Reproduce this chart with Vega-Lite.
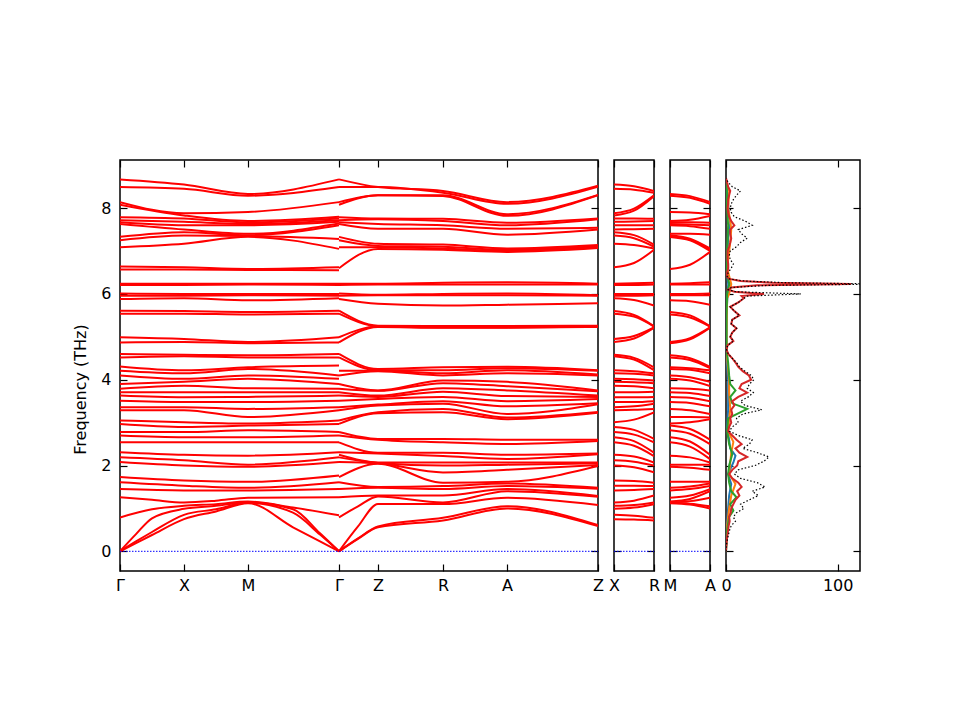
{
  "$schema": "https://vega.github.io/schema/vega-lite/v6.json",
  "description": "Phonon band structure with partial density of states.",
  "background": "white",
  "padding": {"left": 72, "top": 158, "right": 0, "bottom": 0},
  "bounds": "flush",
  "spacing": 16,
  "config": {
    "view": {"stroke": "black", "strokeWidth": 1.5},
    "axis": {
      "domain": false, "grid": false, "tickColor": "black", "tickWidth": 1.2, "tickSize": -7,
      "labelFont": "DejaVu Sans", "labelFontSize": 16, "labelColor": "black",
      "labelFlush": false, "labelOverlap": false,
      "titleFont": "DejaVu Sans", "titleFontSize": 16, "titleFontWeight": "normal", "titleColor": "black"
    },
    "axisX": {"labelPadding": 13},
    "axisY": {"labelPadding": 16}
  },
  "datasets": {
    "bands": [
      {"b":1,"q":0,"f":8.67},{"b":1,"q":64,"f":8.55},{"b":1,"q":128,"f":8.33},{"b":1,"q":219,"f":8.67},
      {"b":2,"q":0,"f":8.49},{"b":2,"q":64,"f":8.45},{"b":2,"q":128,"f":8.29},{"b":2,"q":219,"f":8.49},
      {"b":3,"q":0,"f":8.14},{"b":3,"q":64,"f":7.88},{"b":3,"q":128,"f":7.91},{"b":3,"q":219,"f":8.14},
      {"b":4,"q":0,"f":8.08},{"b":4,"q":64,"f":7.83},{"b":4,"q":128,"f":7.70},{"b":4,"q":219,"f":7.80},
      {"b":5,"q":0,"f":7.79},{"b":5,"q":64,"f":7.76},{"b":5,"q":128,"f":7.67},{"b":5,"q":219,"f":7.76},
      {"b":6,"q":0,"f":7.72},{"b":6,"q":64,"f":7.68},{"b":6,"q":128,"f":7.63},{"b":6,"q":219,"f":7.72},
      {"b":7,"q":0,"f":7.67},{"b":7,"q":64,"f":7.60},{"b":7,"q":128,"f":7.60},{"b":7,"q":219,"f":7.68},
      {"b":8,"q":0,"f":7.63},{"b":8,"q":64,"f":7.50},{"b":8,"q":128,"f":7.40},{"b":8,"q":219,"f":7.64},
      {"b":9,"q":0,"f":7.33},{"b":9,"q":64,"f":7.44},{"b":9,"q":128,"f":7.37},{"b":9,"q":219,"f":7.60},
      {"b":10,"q":0,"f":7.25},{"b":10,"q":64,"f":7.36},{"b":10,"q":128,"f":7.35},{"b":10,"q":219,"f":7.28},
      {"b":11,"q":0,"f":7.09},{"b":11,"q":64,"f":7.17},{"b":11,"q":128,"f":7.33},{"b":11,"q":219,"f":7.05},
      {"b":12,"q":0,"f":6.64},{"b":12,"q":64,"f":6.62},{"b":12,"q":128,"f":6.58},{"b":12,"q":219,"f":6.62},
      {"b":13,"q":0,"f":6.57},{"b":13,"q":64,"f":6.57},{"b":13,"q":128,"f":6.56},{"b":13,"q":219,"f":6.55},
      {"b":14,"q":0,"f":6.24},{"b":14,"q":64,"f":6.24},{"b":14,"q":128,"f":6.24},{"b":14,"q":219,"f":6.24},
      {"b":15,"q":0,"f":6.21},{"b":15,"q":64,"f":6.21},{"b":15,"q":128,"f":6.22},{"b":15,"q":219,"f":6.21},
      {"b":16,"q":0,"f":6.01},{"b":16,"q":64,"f":6.00},{"b":16,"q":128,"f":6.00},{"b":16,"q":219,"f":6.00},
      {"b":17,"q":0,"f":5.96},{"b":17,"q":64,"f":5.96},{"b":17,"q":128,"f":5.97},{"b":17,"q":219,"f":5.96},
      {"b":18,"q":0,"f":5.88},{"b":18,"q":64,"f":5.90},{"b":18,"q":128,"f":5.85},{"b":18,"q":219,"f":5.90},
      {"b":19,"q":0,"f":5.61},{"b":19,"q":64,"f":5.60},{"b":19,"q":128,"f":5.58},{"b":19,"q":219,"f":5.61},
      {"b":20,"q":0,"f":5.54},{"b":20,"q":64,"f":5.54},{"b":20,"q":128,"f":5.52},{"b":20,"q":219,"f":5.54},
      {"b":21,"q":0,"f":4.99},{"b":21,"q":64,"f":4.95},{"b":21,"q":128,"f":4.88},{"b":21,"q":219,"f":4.99},
      {"b":22,"q":0,"f":4.87},{"b":22,"q":64,"f":4.88},{"b":22,"q":128,"f":4.85},{"b":22,"q":219,"f":4.87},
      {"b":23,"q":0,"f":4.60},{"b":23,"q":64,"f":4.58},{"b":23,"q":128,"f":4.57},{"b":23,"q":219,"f":4.60},
      {"b":24,"q":0,"f":4.52},{"b":24,"q":64,"f":4.55},{"b":24,"q":128,"f":4.52},{"b":24,"q":219,"f":4.52},
      {"b":25,"q":0,"f":4.31},{"b":25,"q":64,"f":4.22},{"b":25,"q":128,"f":4.29},{"b":25,"q":219,"f":4.33},
      {"b":26,"q":0,"f":4.21},{"b":26,"q":64,"f":4.15},{"b":26,"q":128,"f":4.25},{"b":26,"q":219,"f":4.10},
      {"b":27,"q":0,"f":4.10},{"b":27,"q":64,"f":4.02},{"b":27,"q":128,"f":4.10},{"b":27,"q":219,"f":4.02},
      {"b":28,"q":0,"f":3.90},{"b":28,"q":64,"f":3.95},{"b":28,"q":128,"f":4.02},{"b":28,"q":219,"f":3.90},
      {"b":29,"q":0,"f":3.79},{"b":29,"q":64,"f":3.86},{"b":29,"q":128,"f":3.80},{"b":29,"q":219,"f":3.79},
      {"b":30,"q":0,"f":3.71},{"b":30,"q":64,"f":3.71},{"b":30,"q":128,"f":3.71},{"b":30,"q":219,"f":3.71},
      {"b":31,"q":0,"f":3.63},{"b":31,"q":64,"f":3.59},{"b":31,"q":128,"f":3.60},{"b":31,"q":219,"f":3.63},
      {"b":32,"q":0,"f":3.51},{"b":32,"q":64,"f":3.48},{"b":32,"q":128,"f":3.48},{"b":32,"q":219,"f":3.51},
      {"b":33,"q":0,"f":3.36},{"b":33,"q":64,"f":3.36},{"b":33,"q":128,"f":3.32},{"b":33,"q":219,"f":3.36},
      {"b":34,"q":0,"f":3.29},{"b":34,"q":64,"f":3.29},{"b":34,"q":128,"f":3.13},{"b":34,"q":219,"f":3.29},
      {"b":35,"q":0,"f":3.05},{"b":35,"q":64,"f":3.01},{"b":35,"q":128,"f":2.98},{"b":35,"q":219,"f":3.05},
      {"b":36,"q":0,"f":2.97},{"b":36,"q":64,"f":2.90},{"b":36,"q":128,"f":2.93},{"b":36,"q":219,"f":2.97},
      {"b":37,"q":0,"f":2.78},{"b":37,"q":64,"f":2.78},{"b":37,"q":128,"f":2.82},{"b":37,"q":219,"f":2.78},
      {"b":38,"q":0,"f":2.70},{"b":38,"q":64,"f":2.66},{"b":38,"q":128,"f":2.66},{"b":38,"q":219,"f":2.70},
      {"b":39,"q":0,"f":2.54},{"b":39,"q":64,"f":2.54},{"b":39,"q":128,"f":2.54},{"b":39,"q":219,"f":2.54},
      {"b":40,"q":0,"f":2.31},{"b":40,"q":64,"f":2.25},{"b":40,"q":128,"f":2.23},{"b":40,"q":219,"f":2.31},
      {"b":41,"q":0,"f":2.19},{"b":41,"q":64,"f":2.12},{"b":41,"q":128,"f":2.02},{"b":41,"q":219,"f":2.19},
      {"b":42,"q":0,"f":2.08},{"b":42,"q":64,"f":2.00},{"b":42,"q":128,"f":1.97},{"b":42,"q":219,"f":2.08},
      {"b":43,"q":0,"f":1.73},{"b":43,"q":64,"f":1.65},{"b":43,"q":128,"f":1.62},{"b":43,"q":219,"f":1.77},
      {"b":44,"q":0,"f":1.61},{"b":44,"q":64,"f":1.53},{"b":44,"q":128,"f":1.48},{"b":44,"q":219,"f":1.61},
      {"b":45,"q":0,"f":1.45},{"b":45,"q":64,"f":1.42},{"b":45,"q":128,"f":1.42},{"b":45,"q":219,"f":1.45},
      {"b":46,"q":0,"f":1.26},{"b":46,"q":32,"f":1.20},{"b":46,"q":64,"f":1.14},{"b":46,"q":96,"f":1.18},{"b":46,"q":128,"f":1.25},{"b":46,"q":219,"f":1.26},
      {"b":47,"q":0,"f":0.79},{"b":47,"q":32,"f":0.98},{"b":47,"q":64,"f":1.06},{"b":47,"q":96,"f":1.10},{"b":47,"q":128,"f":1.16},{"b":47,"q":173,"f":1.02},{"b":47,"q":219,"f":0.84},
      {"b":48,"q":0,"f":0},{"b":48,"q":16,"f":0.40},{"b":48,"q":32,"f":0.77},{"b":48,"q":64,"f":0.99},{"b":48,"q":96,"f":1.06},{"b":48,"q":128,"f":1.14},{"b":48,"q":173,"f":0.98},{"b":48,"q":200,"f":0.42},{"b":48,"q":219,"f":0},
      {"b":49,"q":0,"f":0},{"b":49,"q":16,"f":0.23},{"b":49,"q":32,"f":0.45},{"b":49,"q":64,"f":0.85},{"b":49,"q":96,"f":0.98},{"b":49,"q":128,"f":1.13},{"b":49,"q":173,"f":0.90},{"b":49,"q":200,"f":0.39},{"b":49,"q":219,"f":0},
      {"b":50,"q":0,"f":0},{"b":50,"q":16,"f":0.19},{"b":50,"q":32,"f":0.38},{"b":50,"q":64,"f":0.75},{"b":50,"q":96,"f":0.93},{"b":50,"q":128,"f":1.12},{"b":50,"q":173,"f":0.56},{"b":50,"q":200,"f":0.23},{"b":50,"q":219,"f":0},
      {"b":101,"q":219,"f":8.67},{"b":101,"q":258,"f":8.49},{"b":101,"q":323,"f":8.40},{"b":101,"q":387,"f":8.14},{"b":101,"q":478,"f":8.52},
      {"b":102,"q":219,"f":8.49},{"b":102,"q":258,"f":8.49},{"b":102,"q":323,"f":8.36},{"b":102,"q":387,"f":8.10},{"b":102,"q":478,"f":8.50},
      {"b":103,"q":219,"f":8.14},{"b":103,"q":258,"f":8.30},{"b":103,"q":323,"f":8.30},{"b":103,"q":387,"f":7.86},{"b":103,"q":478,"f":8.31},
      {"b":104,"q":219,"f":8.08},{"b":104,"q":258,"f":8.30},{"b":104,"q":323,"f":8.28},{"b":104,"q":387,"f":7.82},{"b":104,"q":478,"f":8.30},
      {"b":105,"q":219,"f":7.79},{"b":105,"q":258,"f":7.76},{"b":105,"q":323,"f":7.75},{"b":105,"q":387,"f":7.66},{"b":105,"q":478,"f":7.76},
      {"b":106,"q":219,"f":7.72},{"b":106,"q":258,"f":7.74},{"b":106,"q":323,"f":7.70},{"b":106,"q":387,"f":7.60},{"b":106,"q":478,"f":7.74},
      {"b":107,"q":219,"f":7.67},{"b":107,"q":258,"f":7.63},{"b":107,"q":323,"f":7.60},{"b":107,"q":387,"f":7.52},{"b":107,"q":478,"f":7.54},
      {"b":108,"q":219,"f":7.63},{"b":108,"q":258,"f":7.52},{"b":108,"q":323,"f":7.52},{"b":108,"q":387,"f":7.38},{"b":108,"q":478,"f":7.50},
      {"b":109,"q":219,"f":7.33},{"b":109,"q":258,"f":7.17},{"b":109,"q":323,"f":7.15},{"b":109,"q":387,"f":7.06},{"b":109,"q":478,"f":7.14},
      {"b":110,"q":219,"f":7.25},{"b":110,"q":258,"f":7.12},{"b":110,"q":323,"f":7.10},{"b":110,"q":387,"f":7.03},{"b":110,"q":478,"f":7.12},
      {"b":111,"q":219,"f":7.09},{"b":111,"q":258,"f":7.09},{"b":111,"q":323,"f":7.06},{"b":111,"q":387,"f":7.00},{"b":111,"q":478,"f":7.09},
      {"b":112,"q":219,"f":6.60},{"b":112,"q":258,"f":7.05},{"b":112,"q":323,"f":7.03},{"b":112,"q":387,"f":6.98},{"b":112,"q":478,"f":7.07},
      {"b":113,"q":219,"f":6.24},{"b":113,"q":258,"f":6.24},{"b":113,"q":323,"f":6.26},{"b":113,"q":387,"f":6.27},{"b":113,"q":478,"f":6.24},
      {"b":114,"q":219,"f":6.21},{"b":114,"q":258,"f":6.22},{"b":114,"q":323,"f":6.22},{"b":114,"q":387,"f":6.22},{"b":114,"q":478,"f":6.22},
      {"b":115,"q":219,"f":6.01},{"b":115,"q":258,"f":5.98},{"b":115,"q":323,"f":6.00},{"b":115,"q":387,"f":6.01},{"b":115,"q":478,"f":5.97},
      {"b":116,"q":219,"f":5.96},{"b":116,"q":258,"f":5.97},{"b":116,"q":323,"f":5.97},{"b":116,"q":387,"f":5.97},{"b":116,"q":478,"f":5.96},
      {"b":117,"q":219,"f":5.88},{"b":117,"q":258,"f":5.77},{"b":117,"q":323,"f":5.73},{"b":117,"q":387,"f":5.75},{"b":117,"q":478,"f":5.78},
      {"b":118,"q":219,"f":5.61},{"b":118,"q":258,"f":5.26},{"b":118,"q":323,"f":5.25},{"b":118,"q":387,"f":5.25},{"b":118,"q":478,"f":5.26},
      {"b":119,"q":219,"f":5.54},{"b":119,"q":258,"f":5.25},{"b":119,"q":323,"f":5.24},{"b":119,"q":387,"f":5.24},{"b":119,"q":478,"f":5.25},
      {"b":120,"q":219,"f":4.99},{"b":120,"q":258,"f":5.24},{"b":120,"q":323,"f":5.22},{"b":120,"q":387,"f":5.22},{"b":120,"q":478,"f":5.24},
      {"b":121,"q":219,"f":4.87},{"b":121,"q":258,"f":5.23},{"b":121,"q":323,"f":5.21},{"b":121,"q":387,"f":5.21},{"b":121,"q":478,"f":5.23},
      {"b":122,"q":219,"f":4.60},{"b":122,"q":258,"f":4.25},{"b":122,"q":323,"f":4.29},{"b":122,"q":387,"f":4.30},{"b":122,"q":478,"f":4.22},
      {"b":123,"q":219,"f":4.52},{"b":123,"q":258,"f":4.22},{"b":123,"q":323,"f":4.22},{"b":123,"q":387,"f":4.27},{"b":123,"q":478,"f":4.21},
      {"b":124,"q":219,"f":4.21},{"b":124,"q":258,"f":4.21},{"b":124,"q":323,"f":4.15},{"b":124,"q":387,"f":4.22},{"b":124,"q":478,"f":4.12},
      {"b":125,"q":219,"f":4.10},{"b":125,"q":258,"f":4.20},{"b":125,"q":323,"f":4.10},{"b":125,"q":387,"f":4.15},{"b":125,"q":478,"f":4.10},
      {"b":126,"q":219,"f":3.90},{"b":126,"q":258,"f":3.75},{"b":126,"q":323,"f":3.98},{"b":126,"q":387,"f":3.95},{"b":126,"q":478,"f":3.75},
      {"b":127,"q":219,"f":3.79},{"b":127,"q":258,"f":3.74},{"b":127,"q":323,"f":3.92},{"b":127,"q":387,"f":3.85},{"b":127,"q":478,"f":3.73},
      {"b":128,"q":219,"f":3.71},{"b":128,"q":258,"f":3.63},{"b":128,"q":323,"f":3.80},{"b":128,"q":387,"f":3.75},{"b":128,"q":478,"f":3.63},
      {"b":129,"q":219,"f":3.63},{"b":129,"q":258,"f":3.60},{"b":129,"q":323,"f":3.72},{"b":129,"q":387,"f":3.62},{"b":129,"q":478,"f":3.60},
      {"b":130,"q":219,"f":3.51},{"b":130,"q":258,"f":3.55},{"b":130,"q":323,"f":3.60},{"b":130,"q":387,"f":3.50},{"b":130,"q":478,"f":3.55},
      {"b":131,"q":219,"f":3.36},{"b":131,"q":258,"f":3.42},{"b":131,"q":323,"f":3.50},{"b":131,"q":387,"f":3.38},{"b":131,"q":478,"f":3.45},
      {"b":132,"q":219,"f":3.29},{"b":132,"q":258,"f":3.40},{"b":132,"q":323,"f":3.44},{"b":132,"q":387,"f":3.20},{"b":132,"q":478,"f":3.43},
      {"b":133,"q":219,"f":3.05},{"b":133,"q":258,"f":3.24},{"b":133,"q":323,"f":3.32},{"b":133,"q":387,"f":3.12},{"b":133,"q":478,"f":3.25},
      {"b":134,"q":219,"f":2.97},{"b":134,"q":258,"f":3.22},{"b":134,"q":323,"f":3.24},{"b":134,"q":387,"f":3.08},{"b":134,"q":478,"f":3.23},
      {"b":135,"q":219,"f":2.78},{"b":135,"q":258,"f":2.62},{"b":135,"q":323,"f":2.62},{"b":135,"q":387,"f":2.60},{"b":135,"q":478,"f":2.60},
      {"b":136,"q":219,"f":2.70},{"b":136,"q":258,"f":2.60},{"b":136,"q":323,"f":2.54},{"b":136,"q":387,"f":2.50},{"b":136,"q":478,"f":2.57},
      {"b":137,"q":219,"f":2.54},{"b":137,"q":258,"f":2.30},{"b":137,"q":323,"f":2.30},{"b":137,"q":387,"f":2.25},{"b":137,"q":478,"f":2.28},
      {"b":138,"q":219,"f":2.31},{"b":138,"q":258,"f":2.28},{"b":138,"q":323,"f":2.22},{"b":138,"q":387,"f":2.15},{"b":138,"q":478,"f":2.26},
      {"b":139,"q":219,"f":2.25},{"b":139,"q":258,"f":2.07},{"b":139,"q":323,"f":2.07},{"b":139,"q":387,"f":2.07},{"b":139,"q":478,"f":2.07},
      {"b":140,"q":219,"f":2.19},{"b":140,"q":258,"f":2.06},{"b":140,"q":323,"f":2.00},{"b":140,"q":387,"f":2.02},{"b":140,"q":478,"f":2.05},
      {"b":141,"q":219,"f":2.08},{"b":141,"q":258,"f":2.05},{"b":141,"q":323,"f":1.84},{"b":141,"q":387,"f":1.90},{"b":141,"q":478,"f":2.01},
      {"b":142,"q":219,"f":1.73},{"b":142,"q":258,"f":2.04},{"b":142,"q":323,"f":1.60},{"b":142,"q":387,"f":1.62},{"b":142,"q":478,"f":1.99},
      {"b":143,"q":219,"f":1.61},{"b":143,"q":258,"f":1.50},{"b":143,"q":323,"f":1.52},{"b":143,"q":387,"f":1.58},{"b":143,"q":478,"f":1.48},
      {"b":144,"q":219,"f":1.45},{"b":144,"q":258,"f":1.48},{"b":144,"q":323,"f":1.45},{"b":144,"q":387,"f":1.52},{"b":144,"q":478,"f":1.46},
      {"b":145,"q":219,"f":1.26},{"b":145,"q":258,"f":1.30},{"b":145,"q":323,"f":1.30},{"b":145,"q":387,"f":1.45},{"b":145,"q":478,"f":1.29},
      {"b":146,"q":219,"f":0.79},{"b":146,"q":238,"f":1.05},{"b":146,"q":258,"f":1.28},{"b":146,"q":323,"f":1.14},{"b":146,"q":387,"f":1.40},{"b":146,"q":478,"f":1.27},
      {"b":147,"q":219,"f":0},{"b":147,"q":238,"f":0.58},{"b":147,"q":258,"f":1.10},{"b":147,"q":323,"f":1.10},{"b":147,"q":387,"f":1.25},{"b":147,"q":478,"f":1.08},
      {"b":148,"q":219,"f":0},{"b":148,"q":238,"f":0.30},{"b":148,"q":258,"f":0.58},{"b":148,"q":323,"f":0.78},{"b":148,"q":387,"f":1.05},{"b":148,"q":478,"f":0.61},
      {"b":149,"q":219,"f":0},{"b":149,"q":238,"f":0.29},{"b":149,"q":258,"f":0.56},{"b":149,"q":323,"f":0.72},{"b":149,"q":387,"f":1.00},{"b":149,"q":478,"f":0.59}
    ],
    "xr": [
      {"b":1,"q":0,"f":8.55},{"b":1,"q":20,"f":8.51},{"b":1,"q":40,"f":8.40},
      {"b":2,"q":0,"f":8.45},{"b":2,"q":20,"f":8.43},{"b":2,"q":40,"f":8.36},
      {"b":3,"q":0,"f":7.88},{"b":3,"q":20,"f":7.99},{"b":3,"q":40,"f":8.30},
      {"b":4,"q":0,"f":7.83},{"b":4,"q":20,"f":7.94},{"b":4,"q":40,"f":8.28},
      {"b":5,"q":0,"f":7.76},{"b":5,"q":20,"f":7.76},{"b":5,"q":40,"f":7.75},
      {"b":6,"q":0,"f":7.68},{"b":6,"q":20,"f":7.69},{"b":6,"q":40,"f":7.70},
      {"b":7,"q":0,"f":7.60},{"b":7,"q":20,"f":7.60},{"b":7,"q":40,"f":7.60},
      {"b":8,"q":0,"f":7.50},{"b":8,"q":20,"f":7.51},{"b":8,"q":40,"f":7.52},
      {"b":9,"q":0,"f":7.44},{"b":9,"q":20,"f":7.37},{"b":9,"q":40,"f":7.15},
      {"b":10,"q":0,"f":7.36},{"b":10,"q":20,"f":7.30},{"b":10,"q":40,"f":7.10},
      {"b":11,"q":0,"f":7.17},{"b":11,"q":20,"f":7.14},{"b":11,"q":40,"f":7.06},
      {"b":12,"q":0,"f":6.62},{"b":12,"q":20,"f":6.72},{"b":12,"q":40,"f":7.03},
      {"b":13,"q":0,"f":6.24},{"b":13,"q":20,"f":6.25},{"b":13,"q":40,"f":6.26},
      {"b":14,"q":0,"f":6.21},{"b":14,"q":20,"f":6.21},{"b":14,"q":40,"f":6.22},
      {"b":15,"q":0,"f":6.00},{"b":15,"q":20,"f":6.00},{"b":15,"q":40,"f":6.00},
      {"b":16,"q":0,"f":5.96},{"b":16,"q":20,"f":5.96},{"b":16,"q":40,"f":5.97},
      {"b":17,"q":0,"f":5.90},{"b":17,"q":20,"f":5.86},{"b":17,"q":40,"f":5.73},
      {"b":18,"q":0,"f":5.60},{"b":18,"q":20,"f":5.51},{"b":18,"q":40,"f":5.25},
      {"b":19,"q":0,"f":5.54},{"b":19,"q":20,"f":5.47},{"b":19,"q":40,"f":5.24},
      {"b":20,"q":0,"f":4.95},{"b":20,"q":20,"f":5.02},{"b":20,"q":40,"f":5.22},
      {"b":21,"q":0,"f":4.88},{"b":21,"q":20,"f":4.96},{"b":21,"q":40,"f":5.21},
      {"b":22,"q":0,"f":4.58},{"b":22,"q":20,"f":4.51},{"b":22,"q":40,"f":4.29},
      {"b":23,"q":0,"f":4.55},{"b":23,"q":20,"f":4.47},{"b":23,"q":40,"f":4.22},
      {"b":24,"q":0,"f":4.22},{"b":24,"q":20,"f":4.20},{"b":24,"q":40,"f":4.15},
      {"b":25,"q":0,"f":4.15},{"b":25,"q":20,"f":4.14},{"b":25,"q":40,"f":4.10},
      {"b":26,"q":0,"f":4.02},{"b":26,"q":20,"f":4.01},{"b":26,"q":40,"f":3.98},
      {"b":27,"q":0,"f":3.95},{"b":27,"q":20,"f":3.94},{"b":27,"q":40,"f":3.92},
      {"b":28,"q":0,"f":3.86},{"b":28,"q":20,"f":3.85},{"b":28,"q":40,"f":3.80},
      {"b":29,"q":0,"f":3.71},{"b":29,"q":20,"f":3.71},{"b":29,"q":40,"f":3.72},
      {"b":30,"q":0,"f":3.59},{"b":30,"q":20,"f":3.59},{"b":30,"q":40,"f":3.60},
      {"b":31,"q":0,"f":3.48},{"b":31,"q":20,"f":3.48},{"b":31,"q":40,"f":3.50},
      {"b":32,"q":0,"f":3.36},{"b":32,"q":20,"f":3.38},{"b":32,"q":40,"f":3.44},
      {"b":33,"q":0,"f":3.29},{"b":33,"q":20,"f":3.30},{"b":33,"q":40,"f":3.32},
      {"b":34,"q":0,"f":3.01},{"b":34,"q":20,"f":3.07},{"b":34,"q":40,"f":3.24},
      {"b":35,"q":0,"f":2.90},{"b":35,"q":20,"f":2.83},{"b":35,"q":40,"f":2.62},
      {"b":36,"q":0,"f":2.78},{"b":36,"q":20,"f":2.72},{"b":36,"q":40,"f":2.54},
      {"b":37,"q":0,"f":2.66},{"b":37,"q":20,"f":2.57},{"b":37,"q":40,"f":2.30},
      {"b":38,"q":0,"f":2.54},{"b":38,"q":20,"f":2.46},{"b":38,"q":40,"f":2.22},
      {"b":39,"q":0,"f":2.25},{"b":39,"q":20,"f":2.21},{"b":39,"q":40,"f":2.07},
      {"b":40,"q":0,"f":2.12},{"b":40,"q":20,"f":2.09},{"b":40,"q":40,"f":2.00},
      {"b":41,"q":0,"f":2.00},{"b":41,"q":20,"f":1.96},{"b":41,"q":40,"f":1.84},
      {"b":42,"q":0,"f":1.65},{"b":42,"q":20,"f":1.64},{"b":42,"q":40,"f":1.60},
      {"b":43,"q":0,"f":1.53},{"b":43,"q":20,"f":1.53},{"b":43,"q":40,"f":1.52},
      {"b":44,"q":0,"f":1.42},{"b":44,"q":20,"f":1.43},{"b":44,"q":40,"f":1.45},
      {"b":45,"q":0,"f":1.14},{"b":45,"q":20,"f":1.18},{"b":45,"q":40,"f":1.30},
      {"b":46,"q":0,"f":1.06},{"b":46,"q":20,"f":1.08},{"b":46,"q":40,"f":1.14},
      {"b":47,"q":0,"f":0.99},{"b":47,"q":20,"f":1.02},{"b":47,"q":40,"f":1.10},
      {"b":48,"q":0,"f":0.85},{"b":48,"q":20,"f":0.83},{"b":48,"q":40,"f":0.78},
      {"b":49,"q":0,"f":0.75},{"b":49,"q":20,"f":0.74},{"b":49,"q":40,"f":0.72}
    ],
    "ma": [
      {"b":1,"q":0,"f":8.33},{"b":1,"q":20,"f":8.28},{"b":1,"q":40,"f":8.14},
      {"b":2,"q":0,"f":8.29},{"b":2,"q":20,"f":8.24},{"b":2,"q":40,"f":8.10},
      {"b":3,"q":0,"f":7.91},{"b":3,"q":20,"f":7.90},{"b":3,"q":40,"f":7.86},
      {"b":4,"q":0,"f":7.70},{"b":4,"q":20,"f":7.73},{"b":4,"q":40,"f":7.82},
      {"b":5,"q":0,"f":7.67},{"b":5,"q":20,"f":7.67},{"b":5,"q":40,"f":7.66},
      {"b":6,"q":0,"f":7.63},{"b":6,"q":20,"f":7.62},{"b":6,"q":40,"f":7.60},
      {"b":7,"q":0,"f":7.60},{"b":7,"q":20,"f":7.58},{"b":7,"q":40,"f":7.52},
      {"b":8,"q":0,"f":7.40},{"b":8,"q":20,"f":7.40},{"b":8,"q":40,"f":7.38},
      {"b":9,"q":0,"f":7.37},{"b":9,"q":20,"f":7.29},{"b":9,"q":40,"f":7.06},
      {"b":10,"q":0,"f":7.35},{"b":10,"q":20,"f":7.27},{"b":10,"q":40,"f":7.03},
      {"b":11,"q":0,"f":7.33},{"b":11,"q":20,"f":7.25},{"b":11,"q":40,"f":7.00},
      {"b":12,"q":0,"f":6.58},{"b":12,"q":20,"f":6.68},{"b":12,"q":40,"f":6.98},
      {"b":13,"q":0,"f":6.24},{"b":13,"q":20,"f":6.25},{"b":13,"q":40,"f":6.27},
      {"b":14,"q":0,"f":6.22},{"b":14,"q":20,"f":6.22},{"b":14,"q":40,"f":6.22},
      {"b":15,"q":0,"f":6.00},{"b":15,"q":20,"f":6.00},{"b":15,"q":40,"f":6.01},
      {"b":16,"q":0,"f":5.97},{"b":16,"q":20,"f":5.97},{"b":16,"q":40,"f":5.97},
      {"b":17,"q":0,"f":5.85},{"b":17,"q":20,"f":5.83},{"b":17,"q":40,"f":5.75},
      {"b":18,"q":0,"f":5.58},{"b":18,"q":20,"f":5.50},{"b":18,"q":40,"f":5.25},
      {"b":19,"q":0,"f":5.52},{"b":19,"q":20,"f":5.45},{"b":19,"q":40,"f":5.24},
      {"b":20,"q":0,"f":4.88},{"b":20,"q":20,"f":4.97},{"b":20,"q":40,"f":5.22},
      {"b":21,"q":0,"f":4.85},{"b":21,"q":20,"f":4.94},{"b":21,"q":40,"f":5.21},
      {"b":22,"q":0,"f":4.57},{"b":22,"q":20,"f":4.50},{"b":22,"q":40,"f":4.30},
      {"b":23,"q":0,"f":4.52},{"b":23,"q":20,"f":4.46},{"b":23,"q":40,"f":4.27},
      {"b":24,"q":0,"f":4.29},{"b":24,"q":20,"f":4.27},{"b":24,"q":40,"f":4.22},
      {"b":25,"q":0,"f":4.25},{"b":25,"q":20,"f":4.23},{"b":25,"q":40,"f":4.15},
      {"b":26,"q":0,"f":4.10},{"b":26,"q":20,"f":4.06},{"b":26,"q":40,"f":3.95},
      {"b":27,"q":0,"f":4.02},{"b":27,"q":20,"f":3.98},{"b":27,"q":40,"f":3.85},
      {"b":28,"q":0,"f":3.80},{"b":28,"q":20,"f":3.79},{"b":28,"q":40,"f":3.75},
      {"b":29,"q":0,"f":3.71},{"b":29,"q":20,"f":3.69},{"b":29,"q":40,"f":3.62},
      {"b":30,"q":0,"f":3.60},{"b":30,"q":20,"f":3.58},{"b":30,"q":40,"f":3.50},
      {"b":31,"q":0,"f":3.48},{"b":31,"q":20,"f":3.46},{"b":31,"q":40,"f":3.38},
      {"b":32,"q":0,"f":3.32},{"b":32,"q":20,"f":3.29},{"b":32,"q":40,"f":3.20},
      {"b":33,"q":0,"f":3.13},{"b":33,"q":20,"f":3.13},{"b":33,"q":40,"f":3.12},
      {"b":34,"q":0,"f":2.98},{"b":34,"q":20,"f":3.01},{"b":34,"q":40,"f":3.08},
      {"b":35,"q":0,"f":2.93},{"b":35,"q":20,"f":2.85},{"b":35,"q":40,"f":2.60},
      {"b":36,"q":0,"f":2.82},{"b":36,"q":20,"f":2.74},{"b":36,"q":40,"f":2.50},
      {"b":37,"q":0,"f":2.66},{"b":37,"q":20,"f":2.56},{"b":37,"q":40,"f":2.25},
      {"b":38,"q":0,"f":2.54},{"b":38,"q":20,"f":2.44},{"b":38,"q":40,"f":2.15},
      {"b":39,"q":0,"f":2.23},{"b":39,"q":20,"f":2.19},{"b":39,"q":40,"f":2.07},
      {"b":40,"q":0,"f":2.02},{"b":40,"q":20,"f":2.02},{"b":40,"q":40,"f":2.02},
      {"b":41,"q":0,"f":1.97},{"b":41,"q":20,"f":1.95},{"b":41,"q":40,"f":1.90},
      {"b":42,"q":0,"f":1.62},{"b":42,"q":20,"f":1.62},{"b":42,"q":40,"f":1.62},
      {"b":43,"q":0,"f":1.48},{"b":43,"q":20,"f":1.51},{"b":43,"q":40,"f":1.58},
      {"b":44,"q":0,"f":1.42},{"b":44,"q":20,"f":1.45},{"b":44,"q":40,"f":1.52},
      {"b":45,"q":0,"f":1.25},{"b":45,"q":20,"f":1.30},{"b":45,"q":40,"f":1.45},
      {"b":46,"q":0,"f":1.16},{"b":46,"q":20,"f":1.22},{"b":46,"q":40,"f":1.40},
      {"b":47,"q":0,"f":1.14},{"b":47,"q":20,"f":1.17},{"b":47,"q":40,"f":1.25},
      {"b":48,"q":0,"f":1.13},{"b":48,"q":20,"f":1.11},{"b":48,"q":40,"f":1.05},
      {"b":49,"q":0,"f":1.12},{"b":49,"q":20,"f":1.09},{"b":49,"q":40,"f":1.00}
    ],
    "dos": [
      {"s":"total","f":0.0,"d":0},{"s":"total","f":0.1,"d":0.3},{"s":"total","f":0.2,"d":0.7},{"s":"total","f":0.3,"d":1.4},
      {"s":"total","f":0.4,"d":2.3},{"s":"total","f":0.5,"d":3.3},{"s":"total","f":0.6,"d":4.7},{"s":"total","f":0.7,"d":8.5},
      {"s":"total","f":0.8,"d":6.6},{"s":"total","f":0.9,"d":9.4},{"s":"total","f":1.0,"d":16},{"s":"total","f":1.1,"d":13},
      {"s":"total","f":1.2,"d":21},{"s":"total","f":1.3,"d":29},{"s":"total","f":1.4,"d":23.5},{"s":"total","f":1.5,"d":35},
      {"s":"total","f":1.6,"d":28},{"s":"total","f":1.7,"d":13},{"s":"total","f":1.8,"d":7.5},{"s":"total","f":1.9,"d":11},
      {"s":"total","f":2.0,"d":26},{"s":"total","f":2.1,"d":34},{"s":"total","f":2.2,"d":38.5},{"s":"total","f":2.3,"d":28},
      {"s":"total","f":2.4,"d":15},{"s":"total","f":2.5,"d":21},{"s":"total","f":2.6,"d":23.5},{"s":"total","f":2.7,"d":11},
      {"s":"total","f":2.8,"d":3},{"s":"total","f":2.9,"d":5.6},{"s":"total","f":3.0,"d":11},{"s":"total","f":3.1,"d":9.4},
      {"s":"total","f":3.2,"d":15},{"s":"total","f":3.3,"d":32},{"s":"total","f":3.4,"d":17},{"s":"total","f":3.5,"d":13},
      {"s":"total","f":3.6,"d":20},{"s":"total","f":3.7,"d":24.5},{"s":"total","f":3.8,"d":19},{"s":"total","f":3.9,"d":21},
      {"s":"total","f":4.0,"d":25},{"s":"total","f":4.1,"d":22.5},{"s":"total","f":4.2,"d":17},{"s":"total","f":4.3,"d":12},
      {"s":"total","f":4.4,"d":9.4},{"s":"total","f":4.5,"d":5.6},{"s":"total","f":4.6,"d":2},{"s":"total","f":4.7,"d":0.5},
      {"s":"total","f":4.8,"d":1.4},{"s":"total","f":4.9,"d":6.6},{"s":"total","f":5.0,"d":3.8},{"s":"total","f":5.1,"d":5.6},
      {"s":"total","f":5.2,"d":9.4},{"s":"total","f":5.3,"d":4.7},{"s":"total","f":5.4,"d":5.6},{"s":"total","f":5.5,"d":12},
      {"s":"total","f":5.6,"d":7.5},{"s":"total","f":5.7,"d":3.8},{"s":"total","f":5.8,"d":11},{"s":"total","f":5.9,"d":16},
      {"s":"total","f":5.95,"d":19},{"s":"total","f":6.0,"d":67},{"s":"total","f":6.05,"d":9},{"s":"total","f":6.1,"d":2},
      {"s":"total","f":6.15,"d":4.7},{"s":"total","f":6.2,"d":38},{"s":"total","f":6.23,"d":140},{"s":"total","f":6.26,"d":56},
      {"s":"total","f":6.3,"d":17},{"s":"total","f":6.35,"d":3},{"s":"total","f":6.4,"d":1},{"s":"total","f":6.5,"d":2},
      {"s":"total","f":6.6,"d":4.7},{"s":"total","f":6.7,"d":6.6},{"s":"total","f":6.8,"d":3.8},{"s":"total","f":6.9,"d":3},
      {"s":"total","f":7.0,"d":3.8},{"s":"total","f":7.1,"d":9.4},{"s":"total","f":7.2,"d":13},{"s":"total","f":7.3,"d":19},
      {"s":"total","f":7.4,"d":14},{"s":"total","f":7.5,"d":11},{"s":"total","f":7.6,"d":23.5},{"s":"total","f":7.7,"d":17},
      {"s":"total","f":7.8,"d":7.5},{"s":"total","f":7.9,"d":4.7},{"s":"total","f":8.0,"d":3.8},{"s":"total","f":8.1,"d":4.7},
      {"s":"total","f":8.2,"d":6.6},{"s":"total","f":8.3,"d":9.4},{"s":"total","f":8.4,"d":13},{"s":"total","f":8.5,"d":5.6},
      {"s":"total","f":8.6,"d":2},{"s":"total","f":8.7,"d":0},
      {"s":"red","f":0.0,"d":0},{"s":"red","f":0.1,"d":0.2},{"s":"red","f":0.2,"d":0.5},{"s":"red","f":0.3,"d":0.9},
      {"s":"red","f":0.4,"d":1.4},{"s":"red","f":0.5,"d":1.9},{"s":"red","f":0.6,"d":2.4},{"s":"red","f":0.7,"d":3.3},
      {"s":"red","f":0.8,"d":2.8},{"s":"red","f":0.9,"d":4.2},{"s":"red","f":1.0,"d":4.7},{"s":"red","f":1.1,"d":6.6},
      {"s":"red","f":1.2,"d":8.5},{"s":"red","f":1.3,"d":12},{"s":"red","f":1.4,"d":10},{"s":"red","f":1.5,"d":14},
      {"s":"red","f":1.6,"d":11},{"s":"red","f":1.7,"d":5.6},{"s":"red","f":1.8,"d":2.8},{"s":"red","f":1.9,"d":5.6},
      {"s":"red","f":2.0,"d":10},{"s":"red","f":2.1,"d":11},{"s":"red","f":2.2,"d":19},{"s":"red","f":2.3,"d":12},
      {"s":"red","f":2.4,"d":8.5},{"s":"red","f":2.5,"d":14},{"s":"red","f":2.6,"d":9.4},{"s":"red","f":2.7,"d":5.6},
      {"s":"red","f":2.8,"d":1.9},{"s":"red","f":2.9,"d":2.8},{"s":"red","f":3.0,"d":4.7},{"s":"red","f":3.1,"d":3.8},
      {"s":"red","f":3.2,"d":5.6},{"s":"red","f":3.3,"d":4.7},{"s":"red","f":3.4,"d":7.5},{"s":"red","f":3.5,"d":5.6},
      {"s":"red","f":3.6,"d":11},{"s":"red","f":3.7,"d":19},{"s":"red","f":3.8,"d":12},{"s":"red","f":3.9,"d":14},
      {"s":"red","f":4.0,"d":22.5},{"s":"red","f":4.1,"d":20.5},{"s":"red","f":4.2,"d":15},{"s":"red","f":4.3,"d":11},
      {"s":"red","f":4.4,"d":8.5},{"s":"red","f":4.5,"d":5.6},{"s":"red","f":4.6,"d":2},{"s":"red","f":4.7,"d":0.5},
      {"s":"red","f":4.8,"d":1.4},{"s":"red","f":4.9,"d":6.6},{"s":"red","f":5.0,"d":3.8},{"s":"red","f":5.1,"d":5.6},
      {"s":"red","f":5.2,"d":9.4},{"s":"red","f":5.3,"d":4.7},{"s":"red","f":5.4,"d":5.6},{"s":"red","f":5.5,"d":12},
      {"s":"red","f":5.6,"d":7.5},{"s":"red","f":5.7,"d":3.8},{"s":"red","f":5.8,"d":11},{"s":"red","f":5.9,"d":16},
      {"s":"red","f":5.95,"d":14},{"s":"red","f":6.0,"d":34},{"s":"red","f":6.05,"d":7.5},{"s":"red","f":6.1,"d":2},
      {"s":"red","f":6.15,"d":4.7},{"s":"red","f":6.2,"d":28},{"s":"red","f":6.23,"d":112},{"s":"red","f":6.26,"d":42},
      {"s":"red","f":6.3,"d":13},{"s":"red","f":6.35,"d":3},{"s":"red","f":6.4,"d":1},{"s":"red","f":6.5,"d":1},
      {"s":"red","f":6.6,"d":2},{"s":"red","f":6.7,"d":2},{"s":"red","f":6.8,"d":1.4},{"s":"red","f":6.9,"d":1.4},
      {"s":"red","f":7.0,"d":1.4},{"s":"red","f":7.1,"d":2.8},{"s":"red","f":7.2,"d":3.8},{"s":"red","f":7.3,"d":4.7},
      {"s":"red","f":7.4,"d":3.8},{"s":"red","f":7.5,"d":3.8},{"s":"red","f":7.6,"d":7.5},{"s":"red","f":7.7,"d":4.7},
      {"s":"red","f":7.8,"d":2.8},{"s":"red","f":7.9,"d":1.9},{"s":"red","f":8.0,"d":1.4},{"s":"red","f":8.1,"d":1.9},
      {"s":"red","f":8.2,"d":1.9},{"s":"red","f":8.3,"d":2.8},{"s":"red","f":8.4,"d":3.8},{"s":"red","f":8.5,"d":1.9},
      {"s":"red","f":8.6,"d":1},{"s":"red","f":8.7,"d":0},
      {"s":"green","f":0,"d":0},{"s":"green","f":0.5,"d":1},{"s":"green","f":0.8,"d":2.8},{"s":"green","f":0.95,"d":6.6},
      {"s":"green","f":1.1,"d":3.8},{"s":"green","f":1.26,"d":9.4},{"s":"green","f":1.4,"d":4.7},{"s":"green","f":1.6,"d":2.8},
      {"s":"green","f":1.8,"d":1.9},{"s":"green","f":2.0,"d":2.8},{"s":"green","f":2.26,"d":5.6},{"s":"green","f":2.5,"d":2.8},
      {"s":"green","f":2.8,"d":1},{"s":"green","f":3.1,"d":1.9},{"s":"green","f":3.32,"d":19},{"s":"green","f":3.45,"d":5.6},
      {"s":"green","f":3.6,"d":3.8},{"s":"green","f":3.75,"d":8.5},{"s":"green","f":3.9,"d":3.8},{"s":"green","f":4.1,"d":2.8},
      {"s":"green","f":4.4,"d":1.9},{"s":"green","f":4.7,"d":0.5},{"s":"green","f":5.0,"d":0.5},{"s":"green","f":5.5,"d":0.5},
      {"s":"green","f":6.0,"d":1},{"s":"green","f":6.23,"d":3},{"s":"green","f":6.5,"d":0.5},{"s":"green","f":7.0,"d":1},
      {"s":"green","f":7.6,"d":1.9},{"s":"green","f":8.0,"d":1},{"s":"green","f":8.6,"d":0.5},
      {"s":"blue","f":0,"d":0},{"s":"blue","f":0.5,"d":0.5},{"s":"blue","f":1.0,"d":1.9},{"s":"blue","f":1.3,"d":2.8},
      {"s":"blue","f":1.57,"d":4.7},{"s":"blue","f":1.8,"d":1.9},{"s":"blue","f":2.07,"d":6.6},{"s":"blue","f":2.23,"d":8.5},
      {"s":"blue","f":2.4,"d":3.8},{"s":"blue","f":2.6,"d":2.8},{"s":"blue","f":2.9,"d":1},{"s":"blue","f":3.3,"d":1.9},
      {"s":"blue","f":3.7,"d":1.9},{"s":"blue","f":4.0,"d":1.9},{"s":"blue","f":4.5,"d":0.5},{"s":"blue","f":5.5,"d":0.3},
      {"s":"blue","f":6.23,"d":2},{"s":"blue","f":6.6,"d":0.5},{"s":"blue","f":7.3,"d":1.9},{"s":"blue","f":7.65,"d":3.8},
      {"s":"blue","f":7.8,"d":2.8},{"s":"blue","f":8.4,"d":1},{"s":"blue","f":8.6,"d":0.3},
      {"s":"orange","f":0,"d":0},{"s":"orange","f":0.6,"d":1},{"s":"orange","f":1.0,"d":2.8},{"s":"orange","f":1.3,"d":4.7},
      {"s":"orange","f":1.57,"d":8.5},{"s":"orange","f":1.8,"d":2.8},{"s":"orange","f":2.07,"d":3.8},{"s":"orange","f":2.3,"d":4.7},
      {"s":"orange","f":2.55,"d":6.6},{"s":"orange","f":2.8,"d":1.9},{"s":"orange","f":3.32,"d":3.8},{"s":"orange","f":3.7,"d":2.8},
      {"s":"orange","f":4.0,"d":2.8},{"s":"orange","f":4.5,"d":1},{"s":"orange","f":5.0,"d":0.5},{"s":"orange","f":5.9,"d":1},
      {"s":"orange","f":6.0,"d":2.8},{"s":"orange","f":6.23,"d":4.7},{"s":"orange","f":6.6,"d":1},{"s":"orange","f":7.2,"d":3.8},
      {"s":"orange","f":7.5,"d":4.7},{"s":"orange","f":7.7,"d":3.8},{"s":"orange","f":8.0,"d":1.9},{"s":"orange","f":8.4,"d":2.8},
      {"s":"orange","f":8.6,"d":0.5}
    ]
  },
  "hconcat": [
    {
      "width": 478,
      "height": 411,
      "layer": [
        {
          "data": {"name": "bands"},
          "mark": {"type": "line", "color": "#ff0000", "strokeWidth": 2, "interpolate": "monotone", "clip": true},
          "encoding": {
            "x": {"field": "q", "type": "quantitative",
              "scale": {"domain": [0, 478], "nice": false, "zero": false},
              "axis": {"orient": "bottom", "title": null, "values": [0, 64, 128, 219, 258, 323, 387, 478],
                "labelExpr": "datum.value == 0 || datum.value == 219 ? 'Γ' : datum.value == 64 ? 'X' : datum.value == 128 ? 'M' : datum.value == 258 || datum.value == 478 ? 'Z' : datum.value == 323 ? 'R' : 'A'"}},
            "y": {"field": "f", "type": "quantitative",
              "scale": {"domain": [-0.459, 9.122], "nice": false, "zero": false},
              "axis": {"orient": "left", "title": "Frequency (THz)", "values": [0, 2, 4, 6, 8], "titlePadding": 12, "titleY": 229}},
            "detail": {"field": "b", "type": "nominal"}
          }
        },
        {
          "data": {"values": [{"q": 0, "f": 0}, {"q": 478, "f": 0}]},
          "mark": {"type": "line", "color": "#0000ff", "strokeWidth": 1, "strokeDash": [1.5, 1.5]},
          "encoding": {
            "x": {"field": "q", "type": "quantitative",
              "axis": {"orient": "top", "title": null, "labels": false, "values": [0, 64, 128, 219, 258, 323, 387, 478]}},
            "y": {"field": "f", "type": "quantitative",
              "axis": {"orient": "right", "title": null, "labels": false, "values": [0, 2, 4, 6, 8]}}
          }
        }
      ],
      "resolve": {"axis": {"x": "independent", "y": "independent"}}
    },
    {
      "width": 40,
      "height": 411,
      "layer": [
        {
          "data": {"name": "xr"},
          "mark": {"type": "line", "color": "#ff0000", "strokeWidth": 2, "interpolate": "monotone", "clip": true},
          "encoding": {
            "x": {"field": "q", "type": "quantitative",
              "scale": {"domain": [0, 40], "nice": false, "zero": false},
              "axis": {"orient": "bottom", "title": null, "values": [0, 40], "labelExpr": "datum.value == 0 ? 'X' : 'R'"}},
            "y": {"field": "f", "type": "quantitative",
              "scale": {"domain": [-0.459, 9.122], "nice": false, "zero": false},
              "axis": {"orient": "left", "title": null, "labels": false, "values": [0, 2, 4, 6, 8]}},
            "detail": {"field": "b", "type": "nominal"}
          }
        },
        {
          "data": {"values": [{"q": 0, "f": 0}, {"q": 40, "f": 0}]},
          "mark": {"type": "line", "color": "#0000ff", "strokeWidth": 1, "strokeDash": [1.5, 1.5]},
          "encoding": {
            "x": {"field": "q", "type": "quantitative", "axis": {"orient": "top", "title": null, "labels": false, "values": [0, 40]}},
            "y": {"field": "f", "type": "quantitative", "axis": {"orient": "right", "title": null, "labels": false, "values": [0, 2, 4, 6, 8]}}
          }
        }
      ],
      "resolve": {"axis": {"x": "independent", "y": "independent"}}
    },
    {
      "width": 40,
      "height": 411,
      "layer": [
        {
          "data": {"name": "ma"},
          "mark": {"type": "line", "color": "#ff0000", "strokeWidth": 2, "interpolate": "monotone", "clip": true},
          "encoding": {
            "x": {"field": "q", "type": "quantitative",
              "scale": {"domain": [0, 40], "nice": false, "zero": false},
              "axis": {"orient": "bottom", "title": null, "values": [0, 40], "labelExpr": "datum.value == 0 ? 'M' : 'A'"}},
            "y": {"field": "f", "type": "quantitative",
              "scale": {"domain": [-0.459, 9.122], "nice": false, "zero": false},
              "axis": {"orient": "left", "title": null, "labels": false, "values": [0, 2, 4, 6, 8]}},
            "detail": {"field": "b", "type": "nominal"}
          }
        },
        {
          "data": {"values": [{"q": 0, "f": 0}, {"q": 40, "f": 0}]},
          "mark": {"type": "line", "color": "#0000ff", "strokeWidth": 1, "strokeDash": [1.5, 1.5]},
          "encoding": {
            "x": {"field": "q", "type": "quantitative", "axis": {"orient": "top", "title": null, "labels": false, "values": [0, 40]}},
            "y": {"field": "f", "type": "quantitative", "axis": {"orient": "right", "title": null, "labels": false, "values": [0, 2, 4, 6, 8]}}
          }
        }
      ],
      "resolve": {"axis": {"x": "independent", "y": "independent"}}
    },
    {
      "width": 134,
      "height": 411,
      "data": {"name": "dos"},
      "layer": [
        {
          "transform": [{"filter": "datum.s == 'blue'"}],
          "mark": {"type": "line", "color": "#1f77b4", "strokeWidth": 2, "clip": true},
          "encoding": {
            "x": {"field": "d", "type": "quantitative", "scale": {"domain": [0, 120], "nice": false, "zero": false},
              "axis": {"orient": "bottom", "title": null, "values": [0, 100]}},
            "y": {"field": "f", "type": "quantitative", "scale": {"domain": [-0.459, 9.122], "nice": false, "zero": false},
              "axis": {"orient": "left", "title": null, "labels": false, "values": [0, 2, 4, 6, 8]}},
            "order": {"field": "f", "type": "quantitative"}
          }
        },
        {
          "transform": [{"filter": "datum.s == 'orange'"}],
          "mark": {"type": "line", "color": "#ff7f0e", "strokeWidth": 2, "clip": true},
          "encoding": {
            "x": {"field": "d", "type": "quantitative", "scale": {"domain": [0, 120], "nice": false, "zero": false}, "axis": null},
            "y": {"field": "f", "type": "quantitative", "scale": {"domain": [-0.459, 9.122], "nice": false, "zero": false}, "axis": null},
            "order": {"field": "f", "type": "quantitative"}
          }
        },
        {
          "transform": [{"filter": "datum.s == 'green'"}],
          "mark": {"type": "line", "color": "#2ca02c", "strokeWidth": 2, "clip": true},
          "encoding": {
            "x": {"field": "d", "type": "quantitative", "scale": {"domain": [0, 120], "nice": false, "zero": false}, "axis": null},
            "y": {"field": "f", "type": "quantitative", "scale": {"domain": [-0.459, 9.122], "nice": false, "zero": false}, "axis": null},
            "order": {"field": "f", "type": "quantitative"}
          }
        },
        {
          "transform": [{"filter": "datum.s == 'red'"}],
          "mark": {"type": "line", "color": "#d62728", "strokeWidth": 2, "clip": true},
          "encoding": {
            "x": {"field": "d", "type": "quantitative", "scale": {"domain": [0, 120], "nice": false, "zero": false}, "axis": null},
            "y": {"field": "f", "type": "quantitative", "scale": {"domain": [-0.459, 9.122], "nice": false, "zero": false}, "axis": null},
            "order": {"field": "f", "type": "quantitative"}
          }
        },
        {
          "transform": [{"filter": "datum.s == 'total'"}],
          "mark": {"type": "line", "color": "black", "strokeWidth": 1.2, "strokeDash": [1.5, 2], "clip": true},
          "encoding": {
            "x": {"field": "d", "type": "quantitative", "scale": {"domain": [0, 120], "nice": false, "zero": false},
              "axis": {"orient": "top", "title": null, "labels": false, "values": [0, 100]}},
            "y": {"field": "f", "type": "quantitative", "scale": {"domain": [-0.459, 9.122], "nice": false, "zero": false},
              "axis": {"orient": "right", "title": null, "labels": false, "values": [0, 2, 4, 6, 8]}},
            "order": {"field": "f", "type": "quantitative"}
          }
        }
      ],
      "resolve": {"axis": {"x": "independent", "y": "independent"}}
    }
  ]
}
